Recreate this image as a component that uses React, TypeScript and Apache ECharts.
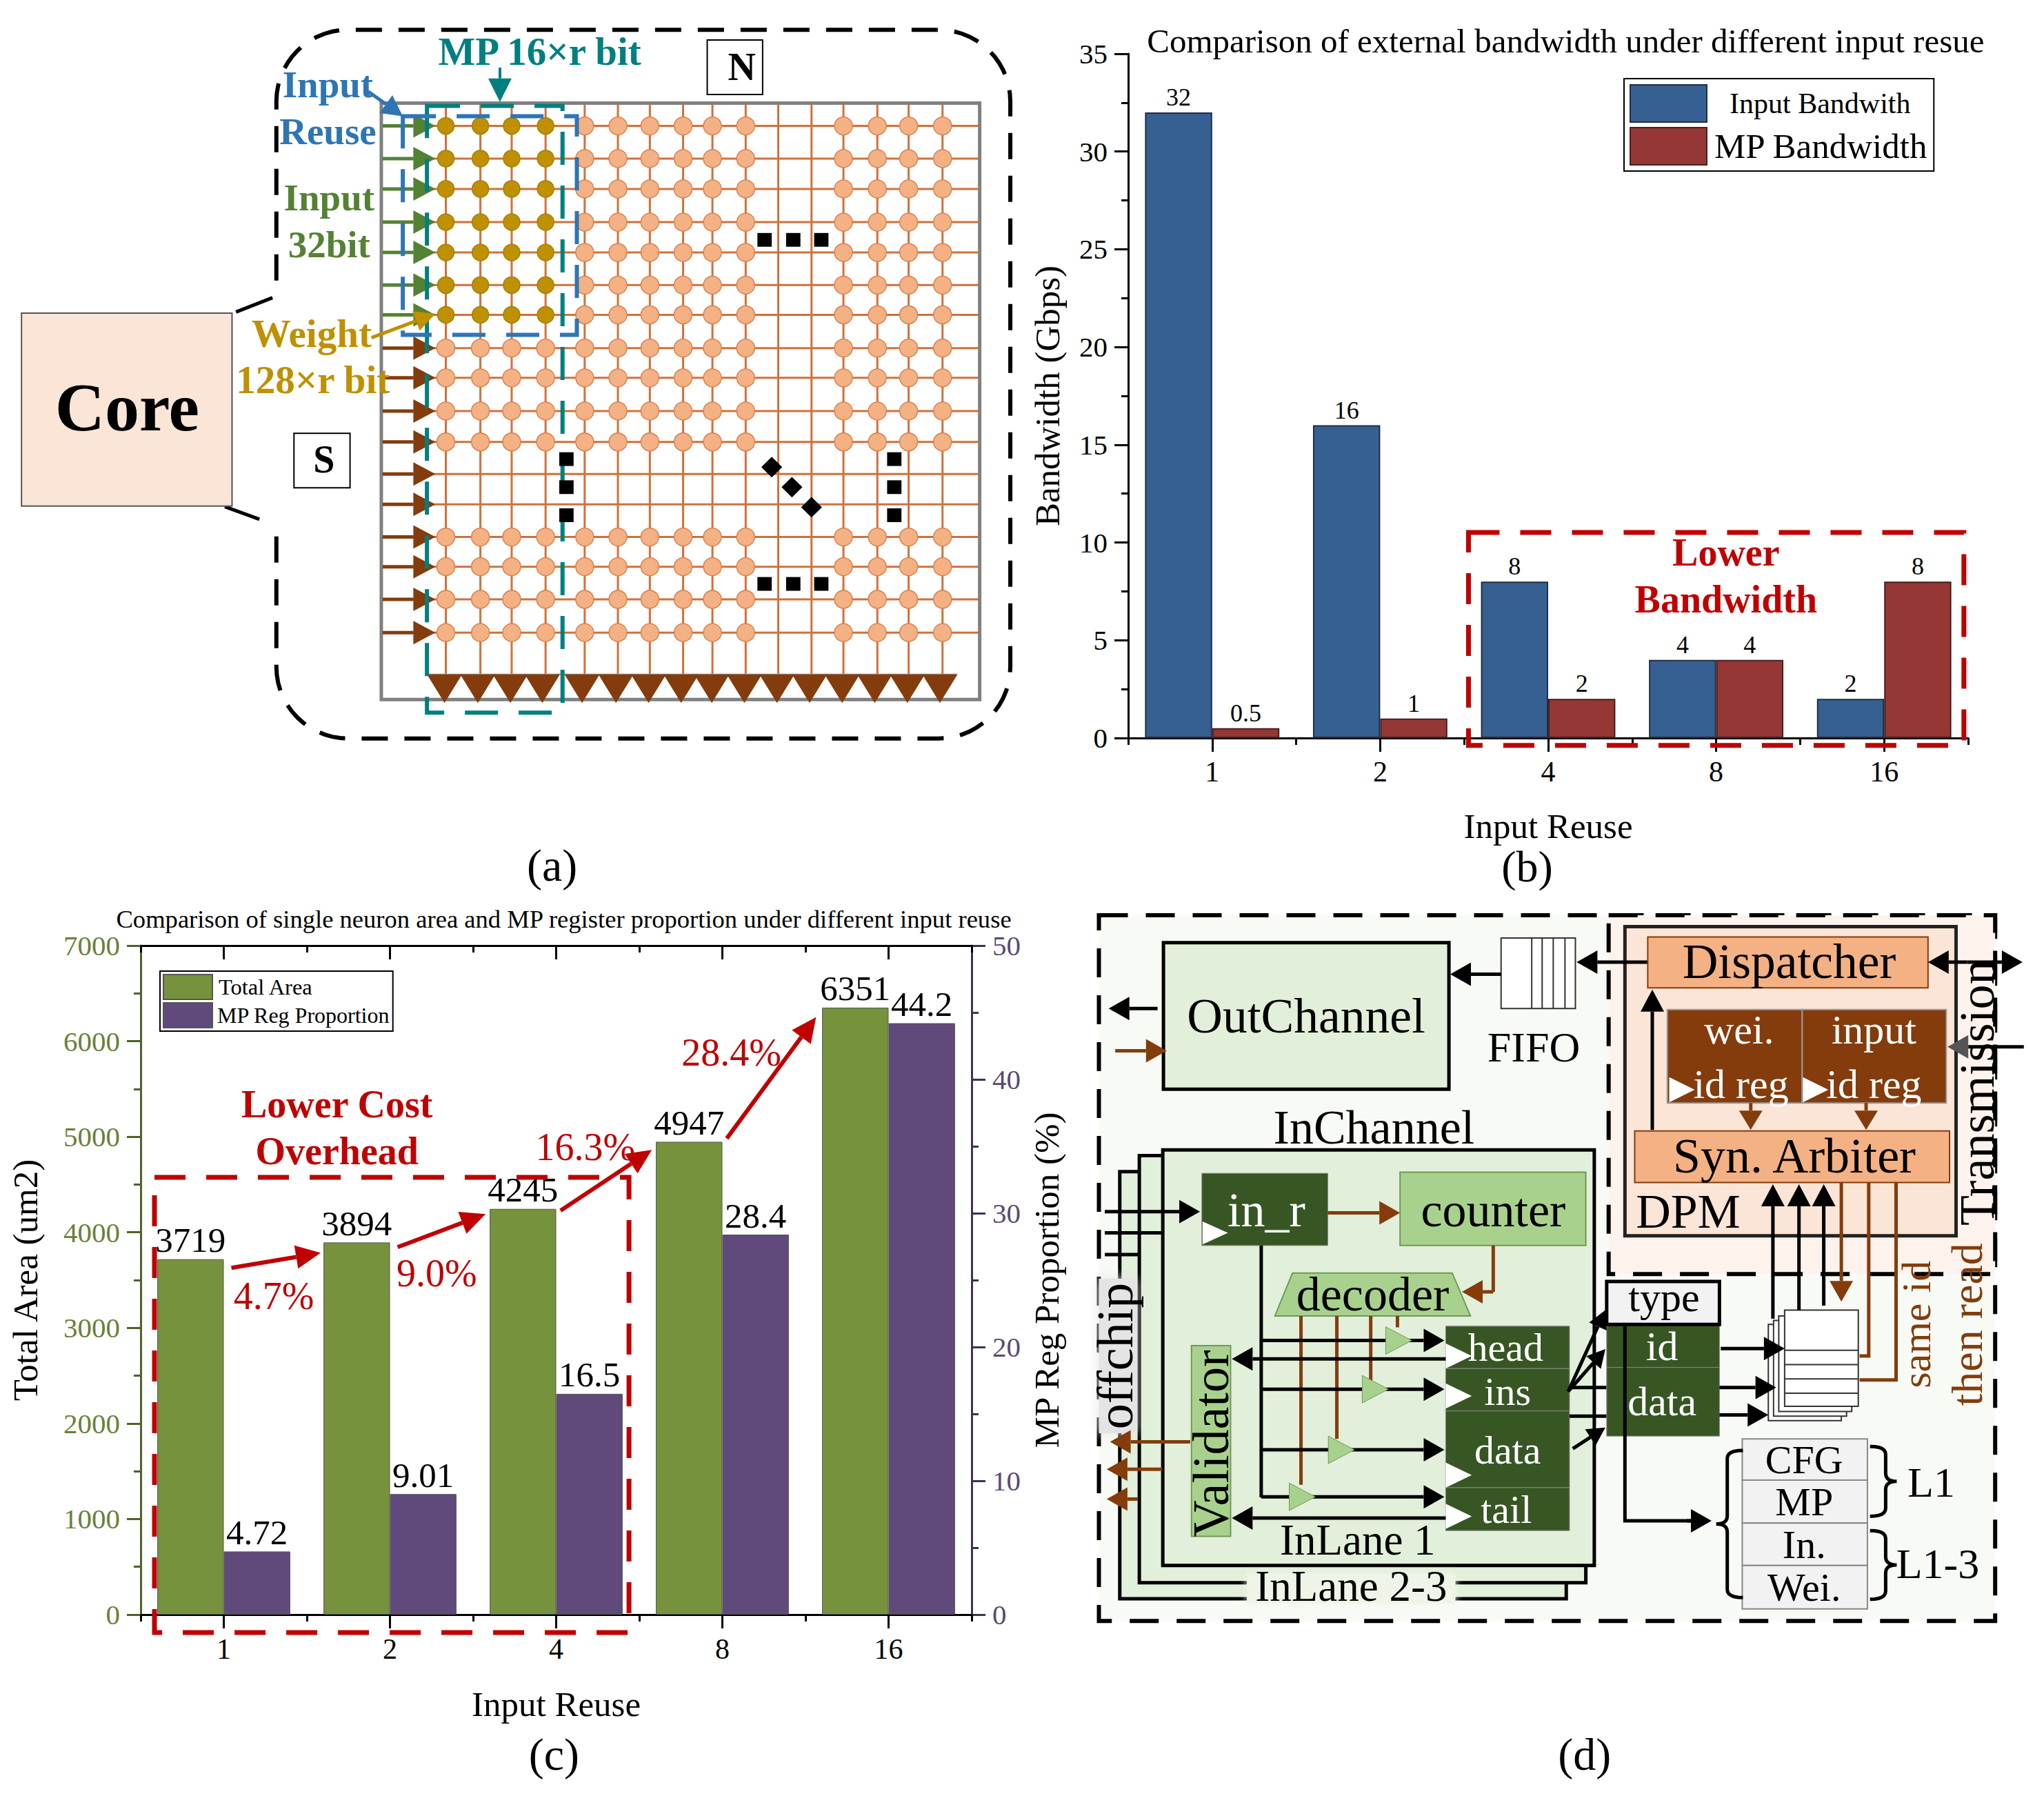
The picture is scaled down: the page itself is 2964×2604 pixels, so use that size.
import React, { useEffect, useRef } from "react";
import * as echarts from "echarts";

const categories = ["1", "2", "4", "8", "16"];
const inputBandwidth = [32, 16, 8, 4, 2];
const mpBandwidth = [0.5, 1, 2, 4, 8];
const totalArea = [3719, 3894, 4245, 4947, 6351];
const mpRegProportion = [4.72, 9.01, 16.5, 28.4, 44.2];

const SERIF = "Liberation Serif";
const kx = 0.9452;
const ky = 0.83;

const elements: any[] = [];
const push = (e: any) => {
  e.z = 50 + elements.length;
  e.silent = true;
  elements.push(e);
};

const panel = (ox: number, oy: number) => {
  const X = (x: number) => ox + x * kx;
  const Y = (y: number) => oy + y * ky;
  const api = {
    rect(x1: number, y1: number, x2: number, y2: number, fill: string, stroke = "none", lw = 0, dash?: number[]) {
      push({
        type: "rect",
        shape: { x: X(x1), y: Y(y1), width: (x2 - x1) * kx, height: (y2 - y1) * ky },
        style: { fill, stroke, lineWidth: lw, lineDash: dash },
      });
    },
    glow(x1: number, y1: number, x2: number, y2: number, fill: string, blur: number) {
      push({
        type: "rect",
        shape: { x: X(x1), y: Y(y1), width: (x2 - x1) * kx, height: (y2 - y1) * ky },
        style: { fill, shadowBlur: blur, shadowColor: fill },
      });
    },
    line(x1: number, y1: number, x2: number, y2: number, stroke: string, lw = 3, dash?: number[]) {
      push({
        type: "line",
        shape: { x1: X(x1), y1: Y(y1), x2: X(x2), y2: Y(y2) },
        style: { stroke, lineWidth: lw, lineDash: dash },
      });
    },
    poly(points: number[][], fill: string, stroke = "none", lw = 0) {
      push({
        type: "polygon",
        shape: { points: points.map(([x, y]) => [X(x), Y(y)]) },
        style: { fill, stroke, lineWidth: lw },
      });
    },
    path(points: number[][], stroke: string, lw = 3, dash?: number[]) {
      push({
        type: "polyline",
        shape: { points: points.map(([x, y]) => [X(x), Y(y)]) },
        style: { stroke, fill: "none", lineWidth: lw, lineDash: dash },
      });
    },
    circle(x: number, y: number, r: number, fill: string, stroke: string) {
      push({ type: "circle", shape: { cx: X(x), cy: Y(y), r }, style: { fill, stroke, lineWidth: 1.5 } });
    },
    text(x: number, y: number, text: string, size: number, fill = "#000", weight = "normal", rotate = 0) {
      push({
        type: "text",
        x: X(x),
        y: Y(y),
        rotation: rotate ? Math.PI / 2 : 0,
        style: {
          text,
          fontFamily: SERIF,
          fontSize: size,
          fontWeight: weight,
          fill,
          textAlign: "center",
          textVerticalAlign: "middle",
        },
      });
    },
    arrow(x1: number, y1: number, x2: number, y2: number, color: string, lw = 5, len = 30, half = 15, headColor?: string) {
      const sx = X(x1), sy = Y(y1), ex = X(x2), ey = Y(y2);
      const d = Math.hypot(ex - sx, ey - sy) || 1;
      const ux = (ex - sx) / d, uy = (ey - sy) / d;
      const bx = ex - ux * len, by = ey - uy * len;
      push({ type: "line", shape: { x1: sx, y1: sy, x2: bx, y2: by }, style: { stroke: color, lineWidth: lw } });
      push({
        type: "polygon",
        shape: { points: [[ex, ey], [bx - uy * half, by + ux * half], [bx + uy * half, by - ux * half]] },
        style: { fill: headColor || color },
      });
    },
    brace(x: number, y1: number, y2: number, dir: number, lw = 5) {
      const w = 24, r = 14, ym = (y1 + y2) / 2;
      const q = (a: number[], c: number[], b: number[]) => {
        const o: number[][] = [];
        for (let i = 0; i <= 6; i++) {
          const t = i / 6;
          o.push([
            (1 - t) * (1 - t) * a[0] + 2 * t * (1 - t) * c[0] + t * t * b[0],
            (1 - t) * (1 - t) * a[1] + 2 * t * (1 - t) * c[1] + t * t * b[1],
          ]);
        }
        return o;
      };
      const pts = [
        ...q([x + dir * w, y1], [x, y1], [x, y1 + r]),
        ...q([x, ym - r], [x, ym], [x - dir * w * 0.7, ym]),
        ...q([x - dir * w * 0.7, ym], [x, ym], [x, ym + r]),
        ...q([x, y2 - r], [x, y2], [x + dir * w, y2]),
      ];
      api.path(pts, "#000", lw);
    },
  };
  return api;
};

function drawPanelA() {
  const p = panel(0, 0);
  const ORANGE = "#D2703A";
  const BROWN = "#843C0C";
  const GREEN = "#548235";
  const TEAL = "#007F7F";
  const BLUE = "#2E75B6";
  const GOLD = "#BF9000";
  const columns = [684, 737, 785, 837, 897, 948, 997, 1048, 1093, 1144, 1194, 1245, 1294, 1346, 1394, 1446];
  const rows = [220, 277, 330, 388, 441, 498, 550, 608, 660, 718, 772, 828, 881, 938, 990, 1047, 1105];
  const triangles = [682, 733, 783, 832, 893, 945, 995, 1045, 1092, 1142, 1192, 1242, 1292, 1342, 1392, 1442];

  const rx = 110, ry = 125;
  const corner = (cx: number, cy: number, a0: number, a1: number) => {
    const o: number[][] = [];
    for (let i = 0; i <= 14; i++) {
      const a = a0 + ((a1 - a0) * i) / 14;
      o.push([cx + rx * Math.cos(a), cy + ry * Math.sin(a)]);
    }
    return o;
  };
  const L = 424, R = 1550, T = 52, B = 1290, PI = Math.PI;
  p.path(
    [
      [L, 490],
      ...corner(L + rx, T + ry, PI, 1.5 * PI),
      ...corner(R - rx, T + ry, 1.5 * PI, 2 * PI),
      ...corner(R - rx, B - ry, 0, 0.5 * PI),
      ...corner(L + rx, B - ry, 0.5 * PI, PI),
      [L, 920],
    ],
    "#000",
    6,
    [38, 24],
  );
  p.line(362, 545, 418, 520, "#000", 5);
  p.line(345, 885, 398, 907, "#000", 5);
  p.rect(33, 547, 356, 884, "#FAE5D6", "#555", 2);
  p.text(195, 712, "Core", 100, "#000", "bold");
  p.rect(451, 757, 537, 852, "#fff", "#000", 2);
  p.text(497, 802, "S", 56, "#000", "bold");
  p.rect(1085, 70, 1170, 165, "#fff", "#000", 2);
  p.text(1138, 117, "N", 56, "#000", "bold");

  columns.forEach((x) => p.line(x, 180, x, 1180, ORANGE, 3));
  rows.forEach((y) => p.line(585, y, 1503, y, ORANGE, 3));
  p.rect(585, 180, 1503, 1222, "none", "#808080", 5);
  rows.forEach((y, ri) => {
    if (ri === 11 || ri === 12) return;
    columns.forEach((x, ci) => {
      if (ci === 10 || ci === 11) return;
      if (ri < 7 && ci < 4) p.circle(x, y, 12, GOLD, "#A67F00");
      else p.circle(x, y, 13, "#F4B183", "#DD8050");
    });
  });
  rows.forEach((y, ri) => p.arrow(587, y, 668, y, ri < 7 ? GREEN : BROWN, 5, 32, 17));
  p.line(655, 1178, 1468, 1178, "#999", 2);
  triangles.forEach((x) =>
    p.poly([[x - 27, 1178], [x + 27, 1178], [x, 1228]], BROWN),
  );
  p.rect(655, 185, 863, 1245, "none", TEAL, 6, [48, 30]);
  p.rect(618, 203, 885, 585, "none", BLUE, 6, [48, 30]);

  [[1173, 419], [1217, 419], [1260, 419], [1173, 1020], [1217, 1020], [1260, 1020], [869, 802], [869, 851], [869, 900], [1372, 802], [1372, 851], [1372, 900]].forEach(([x, y]) =>
    p.rect(x - 11, y - 12, x + 11, y + 12, "#000"),
  );
  [[1184, 816], [1215, 851], [1245, 886]].forEach(([x, y]) =>
    p.poly([[x - 16, y], [x, y - 18], [x + 16, y], [x, y + 18]], "#000"),
  );

  p.text(828, 90, "MP 16×r bit", 57, TEAL, "bold");
  p.arrow(767, 118, 767, 178, TEAL, 4, 34, 17);
  p.text(503, 148, "Input", 55, BLUE, "bold");
  p.text(503, 230, "Reuse", 55, BLUE, "bold");
  p.arrow(565, 160, 618, 203, BLUE, 5, 30, 16);
  p.text(505, 345, "Input", 55, GREEN, "bold");
  p.text(505, 427, "32bit", 55, GREEN, "bold");
  p.text(478, 582, "Weight", 57, GOLD, "bold");
  p.text(480, 663, "128×r bit", 57, GOLD, "bold");
  p.arrow(570, 590, 668, 548, GOLD, 5, 30, 15);
  p.text(847, 1511, "(a)", 66);
}

function drawPanelB() {
  const p = panel(1482, 0);
  p.rect(685, 930, 1445, 1302, "none", "#C00000", 7, [45, 30]);
  p.text(1080, 965, "Lower", 56, "#C00000", "bold");
  p.text(1080, 1047, "Bandwidth", 56, "#C00000", "bold");
  p.text(775, 1514, "(b)", 64);
}

function drawPanelC() {
  const p = panel(0, 1302);
  const RED = "#C00000";
  p.rect(237, 488, 965, 1283, "none", RED, 7, [45, 30]);
  p.text(517, 360, "Lower Cost", 56, RED, "bold");
  p.text(517, 442, "Overhead", 56, RED, "bold");
  p.arrow(355, 646, 492, 620, RED, 6, 36, 17);
  p.arrow(610, 610, 745, 552, RED, 6, 36, 17);
  p.arrow(860, 546, 1000, 440, RED, 6, 36, 17);
  p.arrow(1115, 420, 1252, 208, RED, 6, 36, 17);
  p.text(420, 695, "4.7%", 56, RED);
  p.text(670, 655, "9.0%", 56, RED);
  p.text(898, 435, "16.3%", 56, RED);
  p.text(1122, 270, "28.4%", 56, RED);
  p.text(850, 1496, "(c)", 66);
}

function drawPanelD() {
  const p = panel(1482, 1302);
  const BROWN = "#843C0C";
  const DARK = "#375623";
  const LIGHT = "#A9D18E";
  const PALE = "#E2EFDA";
  const ORANGE = "#F4B183";
  const DASH = [42, 26];

  p.rect(118, 30, 1493, 1263, "#F8FBF5", "#000", 6, DASH);
  p.rect(900, 30, 1493, 657, "#FDF3EC", "#000", 6, DASH);
  p.rect(925, 50, 1433, 590, "#FBE5D6", "#222", 5);

  p.rect(217, 78, 655, 334, PALE, "#000", 5);
  p.text(436, 205, "OutChannel", 71.5);
  p.rect(735, 70, 849, 193, "#fff", "#333", 2);
  [782, 798, 815, 833].forEach((x) => p.line(x, 70, x, 193, "#333", 2));
  p.text(785, 260, "FIFO", 62);
  p.arrow(735, 133, 657, 133, "#000", 5, 30, 17);
  p.arrow(960, 112, 851, 112, "#000", 5, 30, 17);
  p.arrow(208, 193, 133, 193, "#000", 5, 30, 17);
  p.arrow(143, 267, 222, 267, BROWN, 5, 30, 17);

  p.rect(960, 68, 1390, 157, ORANGE, "#843C0C", 2);
  p.text(1177, 110, "Dispatcher", 71.5);
  p.arrow(1450, 112, 1535, 112, "#000", 5, 30, 17);
  p.arrow(1450, 112, 1390, 112, "#000", 5, 30, 17);
  p.rect(990, 195, 1197, 358, BROWN, "#999", 2);
  p.rect(1197, 195, 1418, 358, BROWN, "#999", 2);
  p.text(1100, 230, "wei.", 60, "#fff");
  p.text(1103, 325, "id reg", 60, "#fff");
  p.text(1307, 230, "input", 60, "#fff");
  p.text(1307, 325, "id reg", 60, "#fff");
  p.poly([[993, 313], [1032, 335], [993, 357]], "#fff");
  p.poly([[1198, 313], [1237, 335], [1198, 357]], "#fff");
  p.arrow(967, 405, 967, 160, "#000", 5, 32, 17);
  p.arrow(1118, 358, 1118, 405, BROWN, 5, 28, 17);
  p.arrow(1295, 358, 1295, 405, BROWN, 5, 28, 17);
  p.rect(940, 407, 1423, 497, ORANGE, "#843C0C", 2);
  p.text(1185, 450, "Syn. Arbiter", 72);
  p.text(1022, 548, "DPM", 70);
  p.arrow(1537, 260, 1420, 260, "#000", 5, 30, 17, "#555");
  p.text(1465, 340, "Transmission", 72, "#000", "normal", 1);
  p.text(1372, 745, "same id", 60, BROWN, "normal", 1);
  p.text(1450, 745, "then read", 64, BROWN, "normal", 1);

  p.text(540, 400, "InChannel", 70);
  p.rect(150, 478, 835, 1224, PALE, "#000", 5);
  p.rect(180, 450, 865, 1196, PALE, "#000", 5);
  p.rect(216, 440, 878, 1166, PALE, "#000", 5);
  p.text(515, 1122, "InLane 1", 63);
  p.glow(345, 1180, 665, 1232, "#EEF5E8", 12);
  p.text(505, 1202, "InLane 2-3", 63);
  p.line(127, 585, 216, 585, "#000", 5);
  p.line(127, 623, 180, 623, "#000", 5);
  p.rect(276, 481, 469, 607, DARK, "#777", 1);
  p.text(375, 545, "in_r", 70, "#fff");
  p.poly([[277, 565], [316, 585], [277, 605]], "#fff");
  p.arrow(127, 548, 273, 548, "#000", 5, 30, 17);
  p.rect(580, 479, 865, 607, LIGHT, "#6F9A55", 2);
  p.text(723, 545, "counter", 70);
  p.arrow(469, 550, 580, 550, BROWN, 5, 30, 17);
  p.line(723, 607, 723, 688, BROWN, 5);
  p.arrow(723, 688, 675, 688, BROWN, 5, 30, 17);
  p.poly([[388, 730], [688, 730], [660, 655], [415, 655]], LIGHT, "#6F9A55", 2);
  p.text(538, 692, "decoder", 70);

  p.rect(650, 748, 840, 822, DARK, "#888", 1);
  p.rect(650, 822, 840, 896, DARK, "#888", 1);
  p.rect(650, 896, 840, 1030, DARK, "#888", 1);
  p.rect(650, 1030, 840, 1105, DARK, "#888", 1);
  p.text(742, 785, "head", 58, "#fff");
  p.text(745, 862, "ins", 58, "#fff");
  p.text(745, 965, "data", 58, "#fff");
  p.text(743, 1068, "tail", 58, "#fff");
  [800, 870, 1008, 1080].forEach((y) =>
    p.poly([[650, y - 22], [690, y], [650, y + 22]], "#fff"),
  );
  [[576, 750], [535, 845], [483, 945], [428, 1025]].forEach(([x, y]) =>
    p.line(x, 730, x, y, BROWN, 5),
  );
  p.line(367, 607, 367, 1047, "#000", 5);
  [[773, 558], [858, 522], [964, 470], [1046, 410]].forEach(([y, x]) => {
    p.arrow(367, y, 648, y, "#000", 5, 30, 17);
    p.poly([[x, y - 24], [x + 40, y], [x, y + 24]], LIGHT, "#6F9A55", 1);
  });
  p.rect(260, 782, 320, 1115, LIGHT, "#6F9A55", 2);
  p.text(290, 953, "Validator", 74, "#000", "normal", 1);
  p.arrow(650, 805, 322, 805, "#000", 5, 30, 17);
  p.arrow(650, 1083, 322, 1083, "#000", 5, 30, 17);
  p.glow(118, 665, 175, 935, "#E4E4E4", 18);
  p.arrow(258, 950, 135, 950, BROWN, 5, 30, 17);
  p.arrow(215, 998, 130, 998, BROWN, 5, 30, 17);
  p.arrow(178, 1050, 130, 1050, BROWN, 5, 30, 17);
  p.text(143, 800, "offchip", 74, "#000", "normal", 1);

  p.line(840, 855, 897, 855, "#000", 5);
  p.line(840, 905, 897, 905, "#000", 5);
  p.rect(897, 745, 1070, 820, DARK, "#888", 1);
  p.rect(897, 820, 1070, 940, DARK, "#888", 1);
  p.rect(897, 670, 1070, 745, "#F2F2F2", "#000", 5);
  p.text(985, 698, "type", 60);
  p.text(982, 783, "id", 60, "#fff");
  p.text(982, 880, "data", 60, "#fff");
  p.arrow(838, 862, 895, 720, "#000", 5, 26, 14);
  p.arrow(838, 862, 895, 788, "#000", 5, 26, 14);
  p.arrow(845, 962, 895, 925, "#000", 5, 26, 14);
  p.path([[925, 745], [925, 1088], [1030, 1088]], "#000", 5);
  p.arrow(1020, 1088, 1058, 1088, "#000", 5, 30, 17);

  [[1145, 745, 1257, 913], [1153, 738, 1265, 905], [1161, 730, 1273, 897], [1170, 720, 1283, 888]].forEach(([a, b, c, d]) =>
    p.rect(a, b, c, d, "#fff", "#333", 2),
  );
  [790, 815, 840, 865].forEach((y) => p.line(1170, y, 1283, y, "#333", 2));
  p.arrow(1072, 787, 1170, 787, "#000", 5, 30, 17);
  p.arrow(1070, 855, 1157, 855, "#000", 5, 30, 17);
  p.arrow(1070, 903, 1145, 903, "#000", 5, 30, 17);
  [[1152, 735], [1192, 720], [1230, 712]].forEach(([x, y]) =>
    p.arrow(x, y, x, 500, "#000", 5, 32, 17),
  );
  p.arrow(1257, 497, 1257, 705, BROWN, 5, 30, 17);
  p.path([[1299, 497], [1299, 800], [1285, 800]], BROWN, 5);
  p.path([[1341, 497], [1341, 842], [1285, 842]], BROWN, 5);

  const cells: [number, number, string][] = [[945, 1017, "CFG"], [1017, 1092, "MP"], [1092, 1166, "In."], [1166, 1242, "Wei."]];
  cells.forEach(([a, b, t]) => {
    p.rect(1105, a, 1297, b, "#F2F2F2", "#888", 2);
    p.text(1200, (a + b) / 2, t, 58);
  });
  p.brace(1082, 965, 1222, 1);
  p.brace(1325, 958, 1080, -1);
  p.brace(1325, 1105, 1225, -1);
  p.text(1395, 1020, "L1", 62);
  p.text(1405, 1163, "L1-3", 62);
  p.text(863, 1496, "(d)", 66);
}

drawPanelA();
drawPanelB();
drawPanelC();
drawPanelD();

const axisFont = { fontFamily: SERIF, color: "#000" };

function boundaryAxis(gridIndex: number, position: string, color: string, inside: boolean, len: number, center: boolean) {
  return {
    type: "category",
    gridIndex,
    position,
    data: categories,
    axisLine: { show: true, lineStyle: { color, width: 3 } },
    axisTick: { show: true, alignWithLabel: center, inside, length: len, lineStyle: { color, width: 3 } },
    axisLabel: { show: false },
  };
}

const plain = (v: number) => String(v);

const option: any = {
  animation: false,
  backgroundColor: "#fff",
  title: [
    { text: "Comparison of external bandwidth under different input resue", left: 1482 + 833 * kx - 4, top: 30, textAlign: "center", textStyle: { fontFamily: SERIF, fontWeight: "normal", fontSize: 49, color: "#000" } },
    { text: "Comparison of single neuron area and MP register proportion under different input reuse", left: 866 * kx - 6, top: 1309, textAlign: "center", textStyle: { fontFamily: SERIF, fontWeight: "normal", fontSize: 36.6, color: "#000" } },
  ],
  legend: [
    {
      left: 2355, top: 114, orient: "vertical", icon: "rect", itemWidth: 111, itemHeight: 54, itemGap: 6, padding: 8,
      borderColor: "#000", borderWidth: 2, selectedMode: false, backgroundColor: "#fff", z: 40, align: "left",
      data: [
        { name: "Input Bandwith", textStyle: { fontFamily: SERIF, fontSize: 42, color: "#000", padding: [0, 14, 6, 28] } },
        { name: "MP Bandwidth", textStyle: { fontFamily: SERIF, fontSize: 51, color: "#000", padding: [0, 6, 0, 6] } },
      ],
    },
    {
      left: 232, top: 1408, orient: "vertical", icon: "rect", itemWidth: 71, itemHeight: 36, itemGap: 3, padding: 4,
      borderColor: "#000", borderWidth: 2, selectedMode: false, backgroundColor: "#fff", z: 40, align: "left",
      data: [
        { name: "Total Area", textStyle: { fontFamily: SERIF, fontSize: 32.5, color: "#000", padding: [0, 0, 0, 4] } },
        { name: "MP Reg Proportion", textStyle: { fontFamily: SERIF, fontSize: 32, color: "#000", padding: [0, 0, 0, 2] } },
      ],
    },
  ],
  grid: [
    { left: 1636, top: 78, width: 1218, height: 992 },
    { left: 204, top: 1371, width: 1205, height: 970 },
  ],
  xAxis: [
    {
      ...boundaryAxis(0, "bottom", "#000", false, 20, true),
      axisLabel: { show: true, ...axisFont, fontSize: 42, margin: 28 },
      name: "Input Reuse", nameLocation: "middle", nameGap: 102,
      nameTextStyle: { ...axisFont, fontSize: 51 },
    },
    boundaryAxis(0, "bottom", "#000", false, 10, false),
    {
      ...boundaryAxis(1, "bottom", "#000", false, 20, true),
      axisLabel: { show: true, ...axisFont, fontSize: 42, margin: 29 },
      name: "Input Reuse", nameLocation: "middle", nameGap: 104,
      nameTextStyle: { ...axisFont, fontSize: 51 },
    },
    boundaryAxis(1, "bottom", "#000", false, 10, false),
    boundaryAxis(1, "top", "#000", true, 20, true),
    boundaryAxis(1, "top", "#000", true, 10, false),
  ],
  yAxis: [
    {
      type: "value", gridIndex: 0, min: 0, max: 35, interval: 5,
      name: "Bandwidth (Gbps)", nameLocation: "middle", nameGap: 92,
      nameTextStyle: { ...axisFont, fontSize: 51 },
      axisLine: { show: true, lineStyle: { color: "#000", width: 3 } },
      axisTick: { show: true, length: 20, lineStyle: { color: "#000", width: 3 } },
      minorTick: { show: true, splitNumber: 2, length: 10, lineStyle: { color: "#000", width: 3 } },
      axisLabel: { ...axisFont, fontSize: 41, margin: 30, formatter: plain },
      splitLine: { show: false },
    },
    {
      type: "value", gridIndex: 1, position: "left", min: 0, max: 7000, interval: 1000,
      name: "Total Area (um2)", nameLocation: "middle", nameGap: 142,
      nameTextStyle: { ...axisFont, fontSize: 51 },
      axisLine: { show: true, lineStyle: { color: "#4F6228", width: 3 } },
      axisTick: { show: true, length: 20, lineStyle: { color: "#4F6228", width: 3 } },
      minorTick: { show: true, splitNumber: 2, length: 10, lineStyle: { color: "#4F6228", width: 3 } },
      axisLabel: { fontFamily: SERIF, color: "#6B7F3A", fontSize: 41, margin: 30, formatter: plain },
      splitLine: { show: false },
    },
    {
      type: "value", gridIndex: 1, position: "right", min: 0, max: 50, interval: 10,
      name: "MP Reg Proportion (%)", nameLocation: "middle", nameGap: 83, nameRotate: 90,
      nameTextStyle: { ...axisFont, fontSize: 51 },
      axisLine: { show: true, lineStyle: { color: "#403152", width: 3 } },
      axisTick: { show: true, length: 20, lineStyle: { color: "#403152", width: 3 } },
      minorTick: { show: true, splitNumber: 2, length: 10, lineStyle: { color: "#403152", width: 3 } },
      axisLabel: { fontFamily: SERIF, color: "#5A4A72", fontSize: 41, margin: 30, formatter: plain },
      splitLine: { show: false },
    },
  ],
  series: [
    {
      name: "Input Bandwith", type: "bar", xAxisIndex: 0, yAxisIndex: 0, data: inputBandwidth,
      barWidth: "40%", barGap: 0,
      itemStyle: { color: "#376092", borderColor: "#1F2F45", borderWidth: 2 },
      label: { show: true, position: "top", distance: 4, ...axisFont, fontSize: 36 },
    },
    {
      name: "MP Bandwidth", type: "bar", xAxisIndex: 0, yAxisIndex: 0, data: mpBandwidth,
      barWidth: "40%", barGap: 0,
      itemStyle: { color: "#953735", borderColor: "#4A1F1E", borderWidth: 2 },
      label: { show: true, position: "top", distance: 4, ...axisFont, fontSize: 36 },
    },
    {
      name: "Total Area", type: "bar", xAxisIndex: 2, yAxisIndex: 1, data: totalArea,
      barWidth: "40%", barGap: 0,
      itemStyle: { color: "#76923C", borderColor: "#555", borderWidth: 1 },
      label: { show: true, position: "top", distance: 2, ...axisFont, fontSize: 51 },
    },
    {
      name: "MP Reg Proportion", type: "bar", xAxisIndex: 2, yAxisIndex: 2, data: mpRegProportion,
      barWidth: "40%", barGap: 0,
      itemStyle: { color: "#604A7B", borderColor: "#555", borderWidth: 1 },
      label: { show: true, position: "top", distance: 2, ...axisFont, fontSize: 51 },
    },
  ],
  graphic: { elements },
};

export default function App() {
  const ref = useRef<HTMLDivElement>(null);
  useEffect(() => {
    const chart = echarts.init(ref.current!, undefined, { renderer: "svg" });
    chart.setOption(option);
    return () => chart.dispose();
  }, []);
  return <div ref={ref} style={{ position: "absolute", left: 0, top: 0, width: 2964, height: 2604 }} />;
}
